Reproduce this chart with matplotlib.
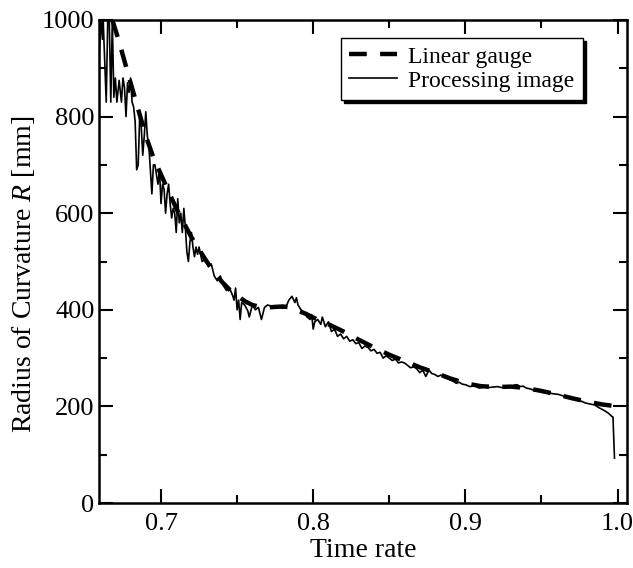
import matplotlib
matplotlib.use("Agg")
import matplotlib.pyplot as plt
from matplotlib.ticker import MultipleLocator

plt.rcParams['font.family'] = ['Liberation Serif', 'DejaVu Serif']
plt.rcParams['mathtext.fontset'] = 'custom'
plt.rcParams['mathtext.rm'] = 'Liberation Serif'
plt.rcParams['mathtext.it'] = 'Liberation Serif:italic'

# Linear gauge (dashed)
gauge_x = [0.668, 0.672, 0.676, 0.680, 0.685, 0.690, 0.695, 0.700, 0.705, 0.710,
           0.715, 0.720, 0.725, 0.730, 0.735, 0.740, 0.745, 0.750, 0.755, 0.760,
           0.765, 0.770, 0.775, 0.780, 0.785, 0.790, 0.795, 0.800, 0.810, 0.820,
           0.830, 0.840, 0.850, 0.860, 0.870, 0.880, 0.890, 0.900, 0.910, 0.920,
           0.930, 0.940, 0.950, 0.960, 0.970, 0.980, 0.990, 1.000]
gauge_y = [1000, 960, 915, 870, 815, 760, 715, 680, 645, 610,
           580, 550, 525, 500, 478, 458, 442, 430, 418, 410,
           406, 405, 406, 407, 405, 398, 392, 384, 370, 355,
           338, 322, 307, 294, 281, 270, 258, 248, 242, 240,
           241, 238, 232, 225, 217, 210, 204, 200]

# Processing image (thin, noisy)
proc_x = [0.659, 0.6605, 0.6615, 0.662, 0.6635, 0.664, 0.665, 0.666, 0.667, 0.668,
          0.669, 0.670, 0.671, 0.6725, 0.673, 0.674, 0.675, 0.676, 0.677, 0.678,
          0.679, 0.680, 0.681, 0.682, 0.683, 0.684, 0.685, 0.686, 0.687, 0.688,
          0.689, 0.690, 0.691, 0.692, 0.693, 0.694, 0.695, 0.696, 0.697, 0.698,
          0.699, 0.700, 0.701, 0.702, 0.703, 0.704, 0.705, 0.706, 0.707, 0.708,
          0.709, 0.710, 0.711, 0.712, 0.713, 0.714, 0.715, 0.716, 0.717, 0.718,
          0.719, 0.720, 0.721, 0.722, 0.723, 0.724, 0.725, 0.727, 0.729, 0.731,
          0.733, 0.735, 0.737, 0.739, 0.741, 0.743, 0.745, 0.747, 0.748, 0.749,
          0.750, 0.751, 0.752, 0.753, 0.755, 0.757, 0.758, 0.760, 0.762, 0.764,
          0.766, 0.768, 0.770, 0.772, 0.774, 0.776, 0.778, 0.780, 0.782, 0.784,
          0.786, 0.788, 0.789, 0.790, 0.792, 0.794, 0.796, 0.798, 0.799, 0.800,
          0.801, 0.803, 0.805, 0.806, 0.808, 0.810, 0.812, 0.814, 0.816, 0.818,
          0.820, 0.822, 0.824, 0.826, 0.828, 0.830, 0.832, 0.834, 0.836, 0.838,
          0.840, 0.842, 0.844, 0.846, 0.848, 0.850, 0.852, 0.854, 0.856, 0.858,
          0.860, 0.862, 0.864, 0.866, 0.868, 0.870, 0.872, 0.874, 0.876, 0.878,
          0.880, 0.882, 0.884, 0.886, 0.888, 0.890, 0.892, 0.894, 0.896, 0.898,
          0.900, 0.903, 0.906, 0.909, 0.912, 0.915, 0.918, 0.921, 0.924, 0.927,
          0.930, 0.932, 0.934, 0.936, 0.938, 0.940, 0.943, 0.946, 0.949, 0.952,
          0.955, 0.958, 0.961, 0.964, 0.967, 0.970, 0.973, 0.976, 0.979, 0.982,
          0.985, 0.988, 0.991, 0.994, 0.996, 0.997, 0.998]
proc_y = [900, 1000, 960, 1000, 870, 830, 1000, 1000, 830, 1000,
          840, 880, 830, 875, 860, 830, 880, 860, 800, 870,
          850, 880, 830, 820, 790, 690, 700, 800, 780, 720,
          760, 810, 760, 740, 690, 640, 700, 700, 680, 660,
          690, 620, 660, 650, 600, 640, 660, 620, 590, 610,
          600, 560, 630, 580, 600, 560, 610, 570, 520, 500,
          540, 560, 530, 510, 530, 515, 530, 500, 505, 490,
          495, 470, 460, 470, 450, 440, 445, 430, 420, 445,
          400, 420, 380, 415, 410, 398, 385, 410, 400, 405,
          380, 405, 410, 408, 404, 406, 405, 403, 405, 420,
          428, 415, 425, 410, 400, 395, 385, 380, 390, 360,
          375, 380, 370, 385, 365, 375, 355, 360, 345, 350,
          340, 345, 335, 338, 330, 332, 320, 325, 322, 315,
          318, 310, 312, 300, 305, 300, 295, 298, 290, 292,
          290, 285, 280, 282, 278, 270, 275, 262, 275, 268,
          266, 262, 265, 260, 258, 255, 252, 248, 250, 246,
          245, 241, 243, 238, 240, 239, 240, 241, 239, 240,
          241, 244, 245, 241, 242, 238, 236, 232, 233, 228,
          228, 226, 225, 222, 218, 218, 213, 211, 207, 205,
          203, 197, 192, 186, 180, 178, 93]

fig = plt.figure(figsize=(6.33, 5.68), dpi=100)
ax = fig.add_axes([0.157, 0.1144, 0.833, 0.8504])

ax.plot(gauge_x, gauge_y, color='black', linewidth=3.2, linestyle=(0, (4, 3)),
        label='Linear gauge', zorder=3)
ax.plot(proc_x, proc_y, color='black', linewidth=1.2, label='Processing image', zorder=2)

ax.set_xlim(0.6595, 1.006)
ax.set_ylim(0, 1000)
ax.xaxis.set_minor_locator(MultipleLocator(0.05))
ax.yaxis.set_major_locator(MultipleLocator(200))
ax.yaxis.set_minor_locator(MultipleLocator(100))
ax.set_xticks([0.7, 0.8, 0.9, 1.0])
ax.set_xticklabels(['0.7', '0.8', '0.9', '1.0'])

ax.tick_params(which='both', direction='in', top=True, right=True, width=1.5,
               labelsize=19)
ax.tick_params(which='major', length=10)
ax.tick_params(which='minor', length=6)
ax.tick_params(axis='x', pad=7)
for s in ax.spines.values():
    s.set_linewidth(1.8)

ax.set_xlabel('Time rate', fontsize=20, labelpad=2)
ax.set_ylabel('Radius of Curvature $R$ [mm]', fontsize=20)
ax.yaxis.set_label_coords(-0.119, 0.474)

leg = ax.legend(loc='upper right', bbox_to_anchor=(0.917, 0.963), borderaxespad=0,
                fontsize=17, frameon=True, fancybox=False,
                shadow={'color': 'black', 'alpha': 1}, handlelength=2.0,
                labelspacing=0.1, handletextpad=0.5, borderpad=0.35)
leg.get_frame().set_edgecolor('black')
leg.get_frame().set_linewidth(1.0)

fig.savefig('out.png', dpi=100)
